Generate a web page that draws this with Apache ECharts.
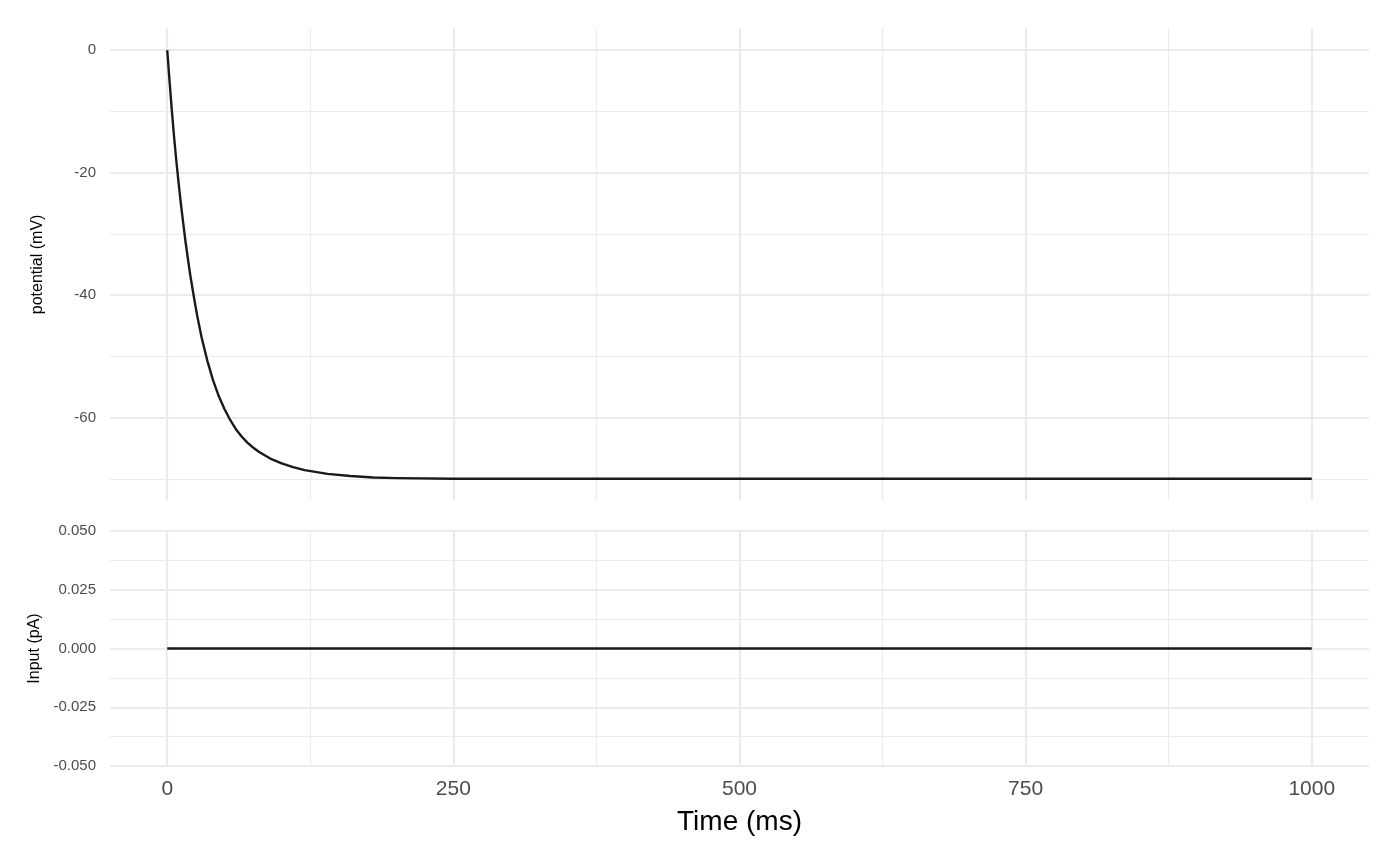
<!DOCTYPE html>
<html><head><meta charset="utf-8">
<script src="https://cdn.jsdelivr.net/npm/echarts@6/dist/echarts.min.js"></script>
<style>html,body{margin:0;padding:0;background:#fff}#c{width:1400px;height:865px}</style>
</head><body><div id="c"></div>
<script>
// ---- data ----
const timeMs = [0, 2, 4, 6, 8, 10, 12, 14, 16, 18, 20, 23, 26, 30, 35, 40, 45, 50, 55, 60, 65, 70, 75, 80, 90, 100, 110, 120, 140, 160, 180, 200, 250, 300, 400, 500, 600, 700, 800, 900, 1000];
const potentialMv = [0, -5.0, -9.8, -14.2, -18.2, -21.8, -25.2, -28.3, -31.3, -34.0, -36.6, -40.0, -43.2, -46.9, -50.7, -53.9, -56.5, -58.6, -60.4, -61.9, -63.1, -64.1, -64.9, -65.6, -66.7, -67.5, -68.1, -68.6, -69.2, -69.55, -69.8, -69.9, -70.0, -70.0, -70.0, -70.0, -70.0, -70.0, -70.0, -70.0, -70.0];
const inputTimeMs = [0, 1000];
const inputPa = [0, 0];

const xMajorTicks = [0, 250, 500, 750, 1000];
const xMinorTicks = [125, 375, 625, 875];
const potMajorTicks = [0, -20, -40, -60];
const potMinorTicks = [-10, -30, -50, -70];
const inMajorTicks = [-0.05, -0.025, 0, 0.025, 0.05];
const inMinorTicks = [-0.0375, -0.0125, 0.0125, 0.0375];

// ---- styling ----
const FONT = '"Liberation Sans", Arial, Helvetica, sans-serif';
const GRIDC = '#ebebeb';
const MAJOR_W = 2.2, MINOR_W = 1.1;

function axisBase(gridIndex, min, max, ticks, width, position) {
  return {
    type: 'value', gridIndex, min, max, position,
    axisLine: { show: false },
    axisTick: { show: false, customValues: ticks },
    axisLabel: { show: false, customValues: ticks },
    splitLine: { show: true, lineStyle: { color: GRIDC, width } },
    minorSplitLine: { show: false }
  };
}

const xAxes = [
  axisBase(0, -50, 1050, xMajorTicks, MAJOR_W, 'bottom'),
  axisBase(0, -50, 1050, xMinorTicks, MINOR_W, 'bottom'),
  Object.assign(axisBase(1, -50, 1050, xMajorTicks, MAJOR_W, 'bottom'), {
    axisLabel: { show: true, customValues: xMajorTicks, fontSize: 21, color: '#4d4d4d', fontFamily: FONT, margin: 13,
      formatter: v => String(v) },
    name: 'Time (ms)', nameLocation: 'middle', nameGap: 42,
    nameTextStyle: { fontSize: 28, color: '#000', fontFamily: FONT }
  }),
  axisBase(1, -50, 1050, xMinorTicks, MINOR_W, 'bottom')
];

const yAxes = [
  Object.assign(axisBase(0, -73.5, 3.5, potMajorTicks, MAJOR_W, 'left'), {
    axisLabel: { show: true, customValues: potMajorTicks, fontSize: 15, color: '#4d4d4d', fontFamily: FONT, margin: 14,
      formatter: v => String(v) },
    name: 'potential (mV)', nameLocation: 'middle', nameRotate: 90, nameGap: 64,
    nameTextStyle: { fontSize: 16, color: '#000', fontFamily: FONT }
  }),
  axisBase(0, -73.5, 3.5, potMinorTicks, MINOR_W, 'left'),
  Object.assign(axisBase(1, -0.05, 0.05, inMajorTicks, MAJOR_W, 'left'), {
    axisLabel: { show: true, customValues: inMajorTicks, fontSize: 15, color: '#4d4d4d', fontFamily: FONT, margin: 14,
      formatter: v => (Math.abs(v) < 1e-12 ? 0 : v).toFixed(3) },
    name: 'Input (pA)', nameLocation: 'middle', nameRotate: 90, nameGap: 64,
    nameTextStyle: { fontSize: 16, color: '#000', fontFamily: FONT }
  }),
  axisBase(1, -0.05, 0.05, inMinorTicks, MINOR_W, 'left')
];

const chart = echarts.init(document.getElementById('c'), null, { renderer: 'canvas' });
chart.setOption({
  backgroundColor: '#ffffff',
  animation: false,
  grid: [
    { left: 110, right: 31, top: 28.6, height: 471.6 },
    { left: 110, right: 31, top: 531, height: 235 }
  ],
  xAxis: xAxes,
  yAxis: yAxes,
  series: [
    {
      type: 'line', xAxisIndex: 0, yAxisIndex: 0,
      data: timeMs.map((t, i) => [t, potentialMv[i]]),
      showSymbol: false, smooth: false,
      lineStyle: { color: '#1a1a1a', width: 2.4, join: 'round' }, z: 5
    },
    {
      type: 'line', xAxisIndex: 2, yAxisIndex: 2,
      data: inputTimeMs.map((t, i) => [t, inputPa[i]]),
      showSymbol: false,
      lineStyle: { color: '#1a1a1a', width: 2.6 }, z: 5
    }
  ]
});
</script>
</body></html>
